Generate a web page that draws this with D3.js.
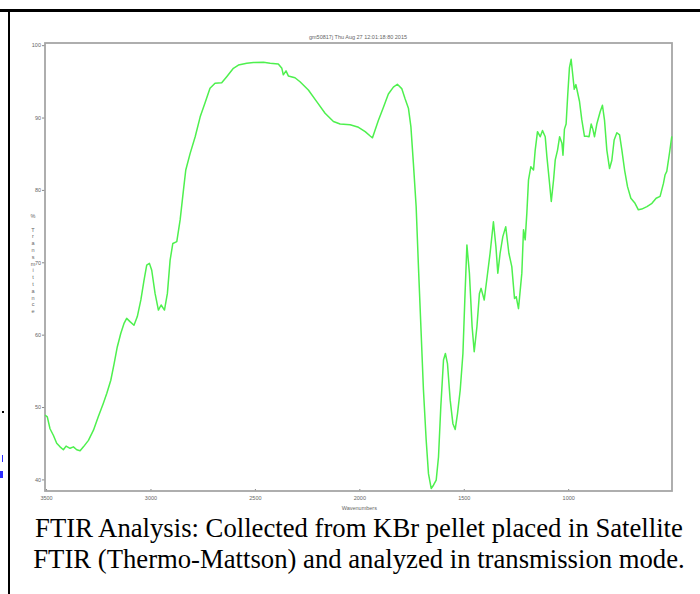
<!DOCTYPE html>
<html>
<head>
<meta charset="utf-8">
<script src="https://cdn.jsdelivr.net/npm/d3@7"></script>
<style>
  body { margin: 0; background: #fff; }
  svg { display: block; }
  .tick text { font-family: Arial, "Liberation Sans", sans-serif; font-size: 5.5px; fill: #666; }
  .tick line { stroke: #888; }
  .small { font-family: Arial, "Liberation Sans", sans-serif; font-size: 5.5px; fill: #666; }
  .caption { font-family: "Times New Roman", "Liberation Serif", serif; fill: #000; }
</style>
</head>
<body>
<svg id="chart" width="700" height="594"></svg>
<script>
var title = "gm50817j  Thu Aug 27 12:01:18:80 2015";
var captionLines = [
  "FTIR Analysis: Collected from KBr pellet placed in Satellite",
  "FTIR (Thermo-Mattson) and analyzed in transmission mode."
];

// wavenumber (cm-1) and % transmittance
var wavenumbers = [3505, 3494, 3481, 3465, 3449, 3433, 3417, 3404, 3385, 3369, 3353, 3337, 3321, 3297, 3273,
  3250, 3226, 3209, 3190, 3174, 3159, 3142, 3126, 3114, 3098, 3079, 3063, 3046, 3031, 3018, 3005, 2994,
  2978, 2962, 2949, 2933, 2919, 2906, 2893, 2874, 2858, 2842, 2831, 2810, 2786, 2762, 2739, 2715, 2691,
  2659, 2635, 2603, 2579, 2539, 2507, 2459, 2427, 2388, 2371, 2364, 2351, 2340, 2308, 2284, 2244, 2204,
  2164, 2124, 2092, 2044, 2004, 1972, 1948, 1937, 1909, 1885, 1861, 1837, 1818, 1797, 1781, 1765, 1753,
  1741, 1728, 1717, 1706, 1693, 1680, 1669, 1656, 1645, 1632, 1621, 1610, 1597, 1588, 1578, 1565, 1552,
  1541, 1530, 1517, 1504, 1495, 1485, 1473, 1460, 1450, 1437, 1425, 1417, 1402, 1390, 1374, 1358, 1346,
  1337, 1326, 1313, 1299, 1284, 1270, 1257, 1249, 1238, 1222, 1214, 1206, 1198, 1190, 1179, 1166, 1158,
  1147, 1134, 1123, 1110, 1102, 1091, 1081, 1070, 1062, 1051, 1041, 1030, 1025, 1018, 1010, 1002, 994,
  986, 980, 971, 963, 956, 946, 935, 922, 911, 900, 890, 882, 874, 863, 847, 836, 826, 815, 802, 791,
  780, 767, 754, 743, 730, 716, 700, 680, 664, 648, 623, 599, 579, 560, 544, 536, 528, 515, 504];
var transmittance = [48.9, 48.65, 47.0, 46.1, 45.0, 44.5, 44.1, 44.6, 44.3, 44.5, 44.1, 43.95, 44.5, 45.4, 46.8,
  48.65, 50.5, 51.9, 53.7, 56.0, 58.3, 60.2, 61.6, 62.25, 61.8, 61.3, 62.5, 64.8, 67.5, 69.6, 69.85, 68.9,
  65.7, 63.4, 64.1, 63.4, 65.7, 70.3, 72.6, 72.85, 75.85, 80.0, 82.75, 85.05, 87.35, 90.1, 92.0, 94.05, 94.75,
  94.8, 95.65, 96.8, 97.25, 97.5, 97.6, 97.65, 97.5, 97.4, 96.8, 95.9, 96.45, 95.75, 95.5, 94.95, 93.8, 92.2,
  90.6, 89.45, 89.1, 89.0, 88.65, 88.05, 87.45, 87.2, 89.6, 91.4, 93.25, 94.2, 94.6, 94.0, 92.6, 91.3, 88.7,
  83.6, 77.7, 69.4, 61.6, 52.35, 45.45, 40.8, 38.75, 39.2, 39.9, 43.1, 50.0, 56.5, 57.4, 56.0, 50.95, 47.7,
  46.9, 49.1, 52.35, 57.4, 64.8, 72.4, 68.5, 61.1, 57.65, 61.1, 65.7, 66.4, 64.8, 67.55, 71.25, 75.6, 72.15,
  68.5, 71.25, 73.55, 74.9, 71.25, 69.4, 65.0, 65.25, 63.6, 68.5, 74.5, 73.1, 76.8, 81.4, 83.2, 82.75, 85.5,
  88.05, 87.35, 88.2, 87.35, 84.6, 81.4, 78.4, 81.4, 84.15, 85.5, 87.35, 86.45, 84.8, 88.4, 89.1, 93.25, 96.9,
  98.05, 96.4, 93.9, 94.55, 93.6, 92.25, 89.7, 87.4, 87.4, 87.35, 89.1, 88.4, 87.35, 89.1, 90.8, 91.7, 89.6, 85.5, 82.95, 84.1,
  86.9, 87.9, 87.6, 85.5, 82.75, 80.45, 78.85, 78.15, 77.25, 77.35, 77.7, 78.15, 78.85, 79.1, 80.9, 82.1, 82.55, 85.1, 87.4];

var xTicks = [3500, 3000, 2500, 2000, 1500, 1000];
var yTicks = [40, 50, 60, 70, 80, 90, 100];
var yLabel = "% Transmittance";
var xLabel = "Wavenumbers";

var data = wavenumbers.map(function(d, i){ return {wn: d, t: transmittance[i]}; });

var svg = d3.select("#chart");

// page frame bits
svg.append("rect").attr("x", 0).attr("y", 9).attr("width", 700).attr("height", 3).attr("fill", "#000");
svg.append("rect").attr("x", 8).attr("y", 9).attr("width", 2).attr("height", 585).attr("fill", "#000");
svg.append("rect").attr("x", 2).attr("y", 411).attr("width", 2).attr("height", 2).attr("fill", "#000");
svg.append("rect").attr("x", 2).attr("y", 455).attr("width", 1).attr("height", 7).attr("fill", "#2b2bff");
svg.append("rect").attr("x", 0).attr("y", 471).attr("width", 3).attr("height", 7).attr("fill", "#2b2bff");

var margin = {top: 43, left: 45};
var width = 627, height = 448;

var x = d3.scaleLinear().domain([3505, 503]).range([0, width]);
var y = d3.scaleLinear().domain([38.4, 100.3]).range([height, 0]);

var g = svg.append("g")
  .attr("transform", "translate(" + margin.left + "," + margin.top + ")");

g.append("g")
  .attr("class", "axis axis--x")
  .attr("transform", "translate(0," + height + ")")
  .call(d3.axisBottom(x).tickValues(xTicks).tickFormat(d3.format("d")).tickSize(-2).tickPadding(5))
  .call(function(a){ a.select(".domain").remove(); });

g.append("g")
  .attr("class", "axis axis--y")
  .call(d3.axisLeft(y).tickValues(yTicks).tickFormat(d3.format("d")).tickSize(3).tickPadding(1))
  .call(function(a){ a.select(".domain").remove(); });

g.append("rect")
  .attr("width", width)
  .attr("height", height)
  .attr("fill", "none")
  .attr("stroke", "#a6a6a6")
  .attr("stroke-width", 1.8);

var line = d3.line()
  .x(function(d){ return x(d.wn); })
  .y(function(d){ return y(d.t); });

g.append("path")
  .datum(data)
  .attr("d", line)
  .attr("fill", "none")
  .attr("stroke", "#4ef04e")
  .attr("stroke-width", 1.5)
  .attr("stroke-linejoin", "round");

g.append("text")
  .attr("class", "small")
  .attr("x", 313)
  .attr("y", -4)
  .attr("text-anchor", "middle")
  .text(title);

g.append("text")
  .attr("class", "small")
  .attr("x", x(2000))
  .attr("y", height + 19)
  .attr("text-anchor", "middle")
  .text(xLabel);

// stacked vertical y label
g.append("g").selectAll("text")
  .data(yLabel.split(""))
  .enter().append("text")
  .attr("class", "small")
  .attr("x", -12)
  .attr("y", function(d, i){ return 175 + i * 6.8; })
  .attr("text-anchor", "middle")
  .text(function(d){ return d; });

var cap = svg.append("g");
captionLines.forEach(function(t, i){
  cap.append("text")
    .attr("class", "caption")
    .attr("x", 359)
    .attr("y", 537 + i * 31)
    .attr("text-anchor", "middle")
    .style("font-size", "25px")
    .text(t);
});
// fit first line to its width in the picture
var w0 = cap.select("text").node().getComputedTextLength();
var fs = 25 * 648 / w0;
cap.selectAll("text").style("font-size", fs + "px");
</script>
</body>
</html>
